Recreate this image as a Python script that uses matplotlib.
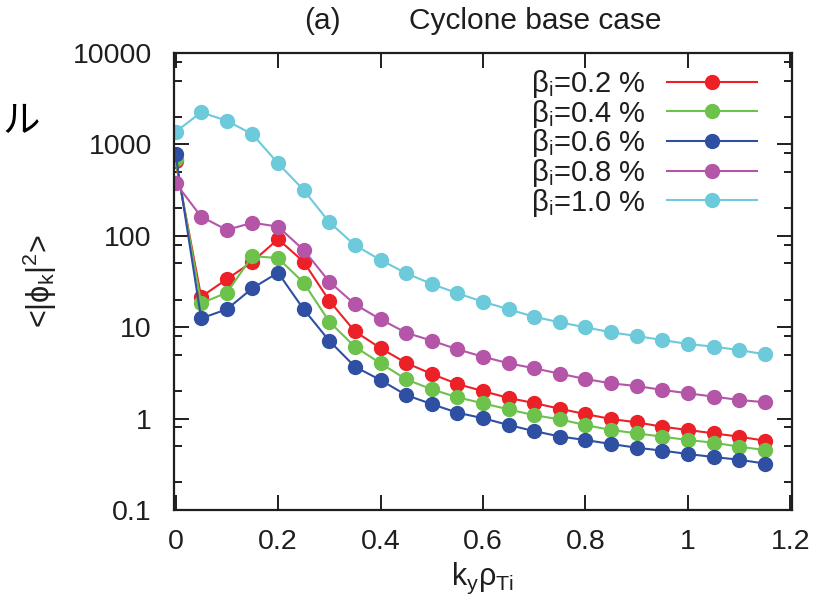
import matplotlib
matplotlib.use("Agg")
import matplotlib.pyplot as plt
from matplotlib.ticker import LogLocator, FixedLocator, NullFormatter, FixedFormatter

plt.rcParams['font.family'] = ['Liberation Sans', 'DejaVu Sans']
plt.rcParams['mathtext.fontset'] = 'custom'
plt.rcParams['mathtext.rm'] = 'Liberation Sans'
plt.rcParams['mathtext.it'] = 'Liberation Sans:italic'

# ---- data ----
ky = [0.0, 0.05, 0.10, 0.15, 0.20, 0.25, 0.30, 0.35, 0.40, 0.45, 0.50, 0.55,
      0.60, 0.65, 0.70, 0.75, 0.80, 0.85, 0.90, 0.95, 1.00, 1.05, 1.10, 1.15]
beta02 = [650, 21.5, 33.5, 52, 92, 52, 19.5, 9.0, 5.9, 4.06, 3.08, 2.39,
          2.0, 1.68, 1.48, 1.28, 1.12, 0.99, 0.91, 0.815, 0.75, 0.69, 0.634, 0.573]
beta04 = [690, 18.3, 23.8, 60, 57, 30.7, 11.5, 6.1, 4.03, 2.69, 2.09, 1.71,
          1.47, 1.26, 1.09, 0.98, 0.85, 0.75, 0.69, 0.634, 0.583, 0.545, 0.493, 0.453]
beta06 = [780, 12.5, 15.7, 26.7, 39.5, 15.7, 7.1, 3.70, 2.64, 1.81, 1.44, 1.16,
          1.01, 0.85, 0.73, 0.637, 0.583, 0.527, 0.48, 0.446, 0.41, 0.38, 0.355, 0.322]
beta08 = [378, 162, 116, 139, 126, 70, 31.5, 17.8, 12.2, 8.7, 7.12, 5.73,
          4.75, 4.03, 3.55, 3.1, 2.71, 2.43, 2.27, 2.06, 1.89, 1.74, 1.60, 1.51]
beta10 = [1367, 2245, 1817, 1290, 621, 317, 141, 79, 54.4, 38.9, 29.7, 23.5,
          19.0, 15.7, 13.0, 11.3, 9.97, 8.8, 8.0, 7.24, 6.55, 6.12, 5.63, 5.05]

series_labels = [r'β$_{\rm i}$=0.2 %', r'β$_{\rm i}$=0.4 %', r'β$_{\rm i}$=0.6 %',
                 r'β$_{\rm i}$=0.8 %', r'β$_{\rm i}$=1.0 %']
series_values = [beta02, beta04, beta06, beta08, beta10]
colors = ['#ec2127', '#6dc24b', '#2f4fa3', '#b455a8', '#6ccadb']

xticks = [0, 0.2, 0.4, 0.6, 0.8, 1.0, 1.2]
xticklabels = ['0', '0.2', '0.4', '0.6', '0.8', '1', '1.2']
yticks = [0.1, 1, 10, 100, 1000, 10000]
yticklabels = ['0.1', '1', '10', '100', '1000', '10000']

# ---- figure ----
fig = plt.figure(figsize=(8.25, 6.01), dpi=100)
ax = fig.add_axes([174/825, 1-510/601, (792-174)/825, (510-53)/601])

for vals, lab, c in zip(series_values, series_labels, colors):
    ax.plot(ky, vals, '-o', color=c, lw=1.5, ms=10, mec=c, label=lab)

ax.set_yscale('log')
ax.set_xlim(-0.003, 1.203)
ax.set_ylim(0.1, 10000)
ax.xaxis.set_major_locator(FixedLocator(xticks))
ax.xaxis.set_major_formatter(FixedFormatter(xticklabels))
ax.yaxis.set_major_locator(FixedLocator(yticks))
ax.yaxis.set_major_formatter(FixedFormatter(yticklabels))
ax.yaxis.set_minor_locator(LogLocator(base=10, subs=[2, 5, 8]))
ax.yaxis.set_minor_formatter(NullFormatter())

tc = '#1e1e1e'
for s in ax.spines.values():
    s.set_linewidth(1.6)
    s.set_color(tc)
ax.tick_params(which='both', direction='in', top=True, right=True, color=tc, width=1.4)
ax.tick_params(which='major', length=11)
ax.tick_params(which='minor', length=6)
ax.tick_params(axis='x', which='major', labelsize=20.5, pad=14, labelcolor=tc)
ax.tick_params(axis='y', which='major', labelsize=20.5, pad=16, labelcolor=tc)

ax.set_xlabel(r'k$_{\rm y}$ρ$_{\rm Ti}$', fontsize=22, color=tc, labelpad=4)
ax.set_ylabel(r'<|ϕ$_{\rm k}$|$^{2}$>', fontsize=22, color=tc, labelpad=10)

leg = ax.legend(loc='upper right', bbox_to_anchor=(757/825, 1-68/601),
                bbox_transform=fig.transFigure, frameon=False, markerfirst=False,
                fontsize=21, handlelength=3.1, handletextpad=0.7,
                labelspacing=-0.08, borderpad=0, borderaxespad=0)
for t in leg.get_texts():
    t.set_color(tc)

fig.text(322/825, 1-21/601, '(a)', fontsize=21.5, color=tc, ha='center', va='center')
fig.text(535/825, 1-21/601, 'Cyclone base case', fontsize=21.5, color=tc,
         ha='center', va='center')
fig.text(2/825, 1-122/601, 'ル', fontsize=27, color='black', ha='left', va='center',
         family=['Noto Sans CJK JP', 'DejaVu Sans'])

fig.savefig('out.png', dpi=100)
